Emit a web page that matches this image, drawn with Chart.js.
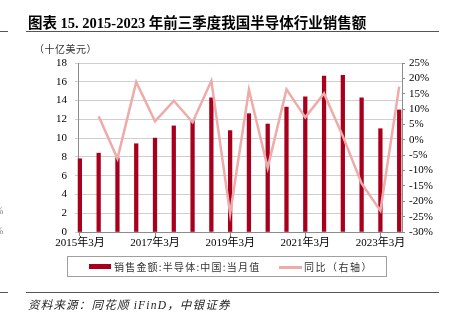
<!DOCTYPE html>
<html>
<head>
<meta charset="utf-8">
<script src="https://cdn.jsdelivr.net/npm/chart.js@4/dist/chart.umd.min.js"></script>
<style>
  body { margin: 0; width: 453px; height: 323px; background: #fff; position: relative; overflow: hidden; }
  #wrap { position: absolute; left: 0; top: 0; width: 453px; height: 323px; }
  .abs { position: absolute; white-space: nowrap; }
  .title { left: 28px; top: 11px; font: bold 14.5px "Liberation Serif", "Noto Sans CJK SC"; color: #000; }
  .rule { height: 1px; background: #555; }
  .unit { left: 34px; top: 41px; font: 10px "Noto Sans CJK SC"; color: #333; letter-spacing: 0.5px; }
  .legend { left: 67px; top: 256px; width: 320px; height: 21px; border: 1px solid #a0a0a0; box-sizing: border-box; }
  .leg-text { font: 10px "Noto Sans CJK SC"; color: #333; top: 259px; }
  .source { left: 28px; top: 296px; font: italic 11.5px "Liberation Serif", "Noto Sans CJK SC"; color: #222; letter-spacing: 1.2px; }
  .stub { font: 10px "Liberation Serif"; color: #888; left: -5px; }
</style>
</head>
<body>
<div id="wrap"><canvas id="salesChart" width="453" height="323"></canvas></div>

<div class="abs title">图表 15. 2015-2023 年前三季度我国半导体行业销售额</div>
<div class="abs rule" style="left:26px; top:31px; width:413px;"></div>
<div class="abs rule" style="left:0; top:31px; width:8px;"></div>
<div class="abs unit">（十亿美元）</div>

<div class="abs legend"></div>
<div class="abs" style="left:89px; top:264px; width:22px; height:5px; background:#A8001C;"></div>
<div class="abs leg-text" style="left:114px; letter-spacing:1.2px;">销售金额:半导体:中国:当月值</div>
<div class="abs" style="left:279px; top:266px; width:23px; height:2.5px; background:#EFAAAA;"></div>
<div class="abs leg-text" style="left:304px; letter-spacing:1.5px;">同比（右轴）</div>

<div class="abs rule" style="left:26px; top:292px; width:413px;"></div>
<div class="abs rule" style="left:0; top:292px; width:8px;"></div>
<div class="abs source">资料来源：同花顺 iFinD，中银证券</div>

<div class="abs stub" style="top:205px;">%</div>
<div class="abs stub" style="top:225px;">%</div>

<script>
// half-year points, March and September
const periods = [
  "2015年3月", "2015年9月", "2016年3月", "2016年9月", "2017年3月", "2017年9月",
  "2018年3月", "2018年9月", "2019年3月", "2019年9月", "2020年3月", "2020年9月",
  "2021年3月", "2021年9月", "2022年3月", "2022年9月", "2023年3月", "2023年9月"
];
// 销售金额 (十亿美元)
const sales = [7.8, 8.4, 7.9, 9.4, 10.0, 11.3, 11.9, 14.3, 10.8, 12.6, 11.5, 13.3, 14.4, 16.6, 16.7, 14.3, 11.0, 13.0];
// 同比 (%), first period has no value
const yoy = [null, 7.7, -6.1, 18.8, 6.0, 12.7, 5.7, 19.2, -24.1, 16.3, -9.1, 16.4, 7.3, 15.1, 1.2, -14.2, -23.1, 17.3];
const labelTicks = [0, 4, 8, 12, 16];

const serif = '"Liberation Serif", "Noto Sans CJK SC"';
const axisGray = "#8c8c8c";

new Chart(document.getElementById("salesChart"), {
  type: "bar",
  data: {
    datasets: [
      {
        type: "line",
        label: "同比（右轴）",
        data: yoy.map((v, i) => ({ x: i, y: v })),
        yAxisID: "y1",
        borderColor: "#EFAAAA",
        borderWidth: 2.5,
        pointRadius: 0,
        tension: 0,
        spanGaps: false,
        order: 0
      },
      {
        label: "销售金额:半导体:中国:当月值",
        data: sales.map((v, i) => ({ x: i, y: v })),
        yAxisID: "y",
        backgroundColor: "#A8001C",
        barThickness: 3.6,
        clip: false,
        order: 1
      }
    ]
  },
  options: {
    responsive: false,
    animation: false,
    devicePixelRatio: 1,
    layout: { padding: { top: 63, left: 0, right: 0, bottom: 71 } },
    plugins: { legend: { display: false }, tooltip: { enabled: false } },
    scales: {
      x: {
        type: "linear",
        offset: false,
        min: -0.1,
        max: 17.15,
        afterBuildTicks: s => { s.ticks = labelTicks.map(v => ({ value: v })); },
        afterFit: s => { s.height = 20; s.paddingLeft = 0; s.paddingRight = 0; },
        ticks: {
          autoSkip: false,
          maxRotation: 0,
          padding: 1,
          color: "#000",
          font: { family: serif, size: 11 },
          callback: v => periods[v]
        },
        grid: { offset: false, drawOnChartArea: false, tickLength: 4, color: axisGray },
        border: { color: axisGray }
      },
      y: {
        position: "left",
        min: 0,
        max: 18,
        afterFit: s => { s.width = 78; },
        ticks: { stepSize: 2, autoSkip: false, padding: 8, color: "#000", font: { family: serif, size: 11 } },
        grid: { color: "#cfcfcf", tickLength: 3 },
        border: { color: axisGray }
      },
      y1: {
        position: "right",
        min: -30,
        max: 25,
        afterFit: s => { s.width = 51; },
        ticks: {
          stepSize: 5,
          autoSkip: false,
          padding: 4,
          color: "#000",
          font: { family: serif, size: 11 },
          callback: v => v + "%"
        },
        grid: { drawOnChartArea: false, tickLength: 3, color: axisGray },
        border: { color: axisGray }
      }
    }
  }
});
</script>
</body>
</html>
